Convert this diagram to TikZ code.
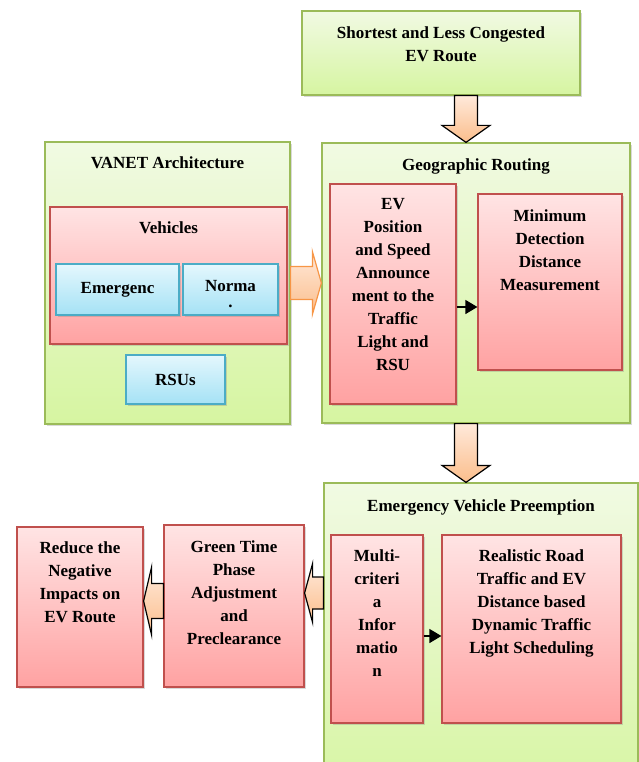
\documentclass[tikz,border=0pt]{standalone}
\usepackage{fontspec}
\setmainfont{Liberation Serif}
\usetikzlibrary{calc,arrows.meta,positioning,shadows}

\definecolor{grnTop}{HTML}{F1FAE3}
\definecolor{grnBot}{HTML}{D6F5A1}
\definecolor{grnLine}{HTML}{9BBB59}
\definecolor{redTop}{HTML}{FFE4E4}
\definecolor{redBot}{HTML}{FFA2A2}
\definecolor{redLine}{HTML}{C0504D}
\definecolor{bluTop}{HTML}{E4F7FD}
\definecolor{bluBot}{HTML}{A5E2F5}
\definecolor{bluLine}{HTML}{4BACC6}
\definecolor{orgTop}{HTML}{FFE9DA}
\definecolor{orgBot}{HTML}{FBBE8C}
\definecolor{orgLine}{HTML}{F79646}

\tikzset{
  box/.style={rectangle,line width=1.2pt,inner sep=0pt,
    drop shadow={shadow xshift=1.5pt,shadow yshift=-2pt,opacity=.3}},
  grnbox/.style={box,draw=grnLine,top color=grnTop,bottom color=grnBot},
  redbox/.style={box,draw=redLine,top color=redTop,bottom color=redBot},
  blubox/.style={box,draw=bluLine,top color=bluTop,bottom color=bluBot},
  txt/.style={inner sep=0pt,align=center,font=\fontsize{17}{23}\selectfont\bfseries},
  fatarrow/.style={line width=1.2pt,draw=black,top color=orgTop,bottom color=orgBot},
  blk/.style={line width=1.2pt,-{Triangle[length=12pt,width=14pt]}},
}

%太い矢印
\newcommand{\blockdown}[6][]{%
  \draw[fatarrow,#1] let \p1=(#2), \p2=(#3) in
    (\x1-#4,\y1) -- (\x1-#4,\y2+#6) -- (\x1-#5,\y2+#6) -- (\x1,\y2)
    -- (\x1+#5,\y2+#6) -- (\x1+#4,\y2+#6) -- (\x1+#4,\y1) -- cycle;}
\newcommand{\blockright}[6][]{%
  \draw[fatarrow,#1] let \p1=(#2), \p2=(#3) in
    (\x1,\y1+#4) -- (\x2-#6,\y1+#4) -- (\x2-#6,\y1+#5) -- (\x2,\y1)
    -- (\x2-#6,\y1-#5) -- (\x2-#6,\y1-#4) -- (\x1,\y1-#4) -- cycle;}
\newcommand{\blockleft}[6][]{%
  \draw[fatarrow,#1] let \p1=(#2), \p2=(#3) in
    (\x1,\y1+#4) -- (\x2+#6,\y1+#4) -- (\x2+#6,\y1+#5) -- (\x2,\y1)
    -- (\x2+#6,\y1-#5) -- (\x2+#6,\y1-#4) -- (\x1,\y1-#4) -- cycle;}

\begin{document}
\begin{tikzpicture}[x=1pt,y=-1pt]
            \useasboundingbox (0,0) rectangle (639,762);
            \clip (0,0) rectangle (639,762);
            %外枠
            \node[grnbox,minimum width=278pt,minimum height=84pt](route)at(441,53){};
            \node[grnbox,minimum width=308pt,minimum height=280pt](geo)at(476,283){};
            \node[grnbox,minimum width=245pt,minimum height=282pt](vanet)at(167.5,283){};
            \node[grnbox,minimum width=314pt,minimum height=317pt](evp)at(481,641.5){};
            %VANET
            \node[redbox,minimum width=237pt,minimum height=137pt](vehicles)at(168.5,275.5){};
            \node[blubox,minimum width=123pt,minimum height=51pt](emerg)at(117.5,289.5){};
            \node[blubox,minimum width=95pt,minimum height=51pt](normal)at(230.5,289.5){};
            \node[blubox,minimum width=99pt,minimum height=49pt](rsu)at(175.5,379.5){};
            %Geographic Routing
            \node[redbox,minimum width=126pt,minimum height=220pt](ev)at(393,294){};
            \node[redbox,minimum width=144pt,minimum height=176pt](mindist)at(550,282){};
            %Preemption
            \node[redbox,minimum width=92pt,minimum height=188pt](multi)at(377,629){};
            \node[redbox,minimum width=179pt,minimum height=188pt](realistic)at(531.5,629){};
            \node[redbox,minimum width=140pt,minimum height=162pt](green)at(234,606){};
            \node[redbox,minimum width=126pt,minimum height=160pt](reduce)at(80,607){};
            %文字
            \node[txt,below=16pt of route.north](routeT){Shortest and Less Congested\\EV Route};
            \node[txt,below=16pt of geo.north](geoT){Geographic Routing};
            \node[txt,below=15pt of vanet.north](vanetT){VANET Architecture};
            \node[txt,below=17pt of evp.north](evpT){Emergency Vehicle Preemption};
            \node[txt,below=15pt of vehicles.north](vehiclesT){Vehicles};
            \node[txt](emergT)at(emerg){Emergenc};
            \node[txt,below=17pt of normal.north](normalT){Norma\\[-7pt].};
            \node[txt](rsuT)at(rsu){RSUs};
            \node[txt,below=15pt of ev.north](evT){EV\\Position\\and Speed\\Announce\\ment to the\\Traffic\\Light and\\RSU};
            \node[txt,below=16pt of mindist.north](mindistT){Minimum\\Detection\\Distance\\Measurement};
            \node[txt,below=15pt of multi.north](multiT){Multi-\\criteri\\a\\Infor\\matio\\n};
            \node[txt,below=15pt of realistic.north](realisticT){Realistic Road\\Traffic and EV\\Distance based\\Dynamic Traffic\\Light Scheduling};
            \node[txt,below=16pt of green.north](greenT){Green Time\\Phase\\Adjustment\\and\\Preclearance};
            \node[txt,below=15pt of reduce.north](reduceT){Reduce the\\Negative\\Impacts on\\EV Route};
            %黒い矢印
            \coordinate(b1)at($(ev.east)+(0,13)$);
            \path[draw,blk](b1)to(b1-|mindist.west);
            \coordinate(b2)at($(multi.east)+(0,7)$);
            \path[draw,blk](b2)to(b2-|realistic.west);
            %太い矢印
            \coordinate(a1)at($(geo.north)+(-10,0)$);
            \blockdown{a1|-route.south}{a1}{11.5pt}{24pt}{17pt}
            \blockdown{a1|-geo.south}{a1|-evp.north}{11.5pt}{24pt}{17pt}
            \blockright[draw=orgLine]{vanet.east}{geo.west}{16.5pt}{31.5pt}{9pt}
            \coordinate(g1)at($(green.east)+(0,-13)$);
            \blockleft{evp.west|-g1}{g1}{16pt}{29.5pt}{8pt}
            \coordinate(r1)at($(reduce.east)+(0,-6)$);
            \blockleft{green.west|-r1}{r1}{17.5pt}{34pt}{8pt}
        \end{tikzpicture}
\end{document}
